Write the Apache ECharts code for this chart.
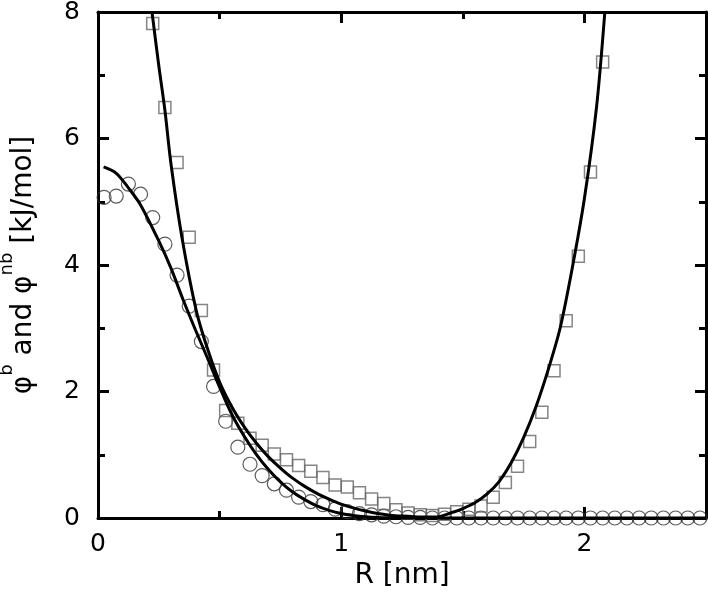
<!DOCTYPE html>
<html>
<head>
<meta charset="utf-8">
<script src="https://cdn.jsdelivr.net/npm/echarts@6/dist/echarts.min.js"></script>
<style>
html,body{margin:0;padding:0;background:#fff;}
#c{width:708px;height:599px;}
</style>
</head>
<body>
<div id="c"></div>
<script>
// Circles (phi^b data)
const circleX = [0.025,0.075,0.125,0.175,0.225,0.275,0.325,0.375,0.425,0.475,0.525,0.575,0.625,0.675,0.725,0.775,0.825,0.875,0.925,0.975,1.025,1.075,1.125,1.175,1.225,1.275,1.325,1.375,1.425,1.475,1.525,1.575,1.625,1.675,1.725,1.775,1.825,1.875,1.925,1.975,2.025,2.075,2.125,2.175,2.225,2.275,2.325,2.375,2.425,2.475];
const circleY = [5.07,5.09,5.28,5.12,4.75,4.33,3.84,3.35,2.79,2.08,1.53,1.12,0.85,0.67,0.54,0.44,0.33,0.26,0.21,0.14,0.10,0.07,0.05,0.03,0.02,0.01,0.01,0,0,0,0,0,0,0,0,0,0,0,0,0,0,0,0,0,0,0,0,0,0,0];
// Squares (phi^nb data)
const squareX = [0.225,0.275,0.325,0.375,0.425,0.475,0.525,0.575,0.625,0.675,0.725,0.775,0.825,0.875,0.925,0.975,1.025,1.075,1.125,1.175,1.225,1.275,1.325,1.375,1.425,1.475,1.525,1.575,1.625,1.675,1.725,1.775,1.825,1.875,1.925,1.975,2.025,2.075];
const squareY = [7.82,6.49,5.62,4.44,3.28,2.34,1.70,1.50,1.26,1.15,1.01,0.92,0.83,0.74,0.64,0.52,0.49,0.40,0.30,0.23,0.13,0.08,0.05,0.04,0.06,0.10,0.14,0.19,0.33,0.56,0.82,1.21,1.67,2.33,3.12,4.14,5.47,7.21];
// Fit curve through squares
const fitNbX = [0.222,0.25,0.275,0.30,0.345,0.404,0.45,0.5,0.55,0.6,0.65,0.7,0.75,0.8,0.85,0.9,0.95,1.0,1.05,1.1,1.15,1.2,1.25,1.3,1.35,1.4,1.45,1.5,1.55,1.6,1.65,1.7,1.75,1.8,1.85,1.9,1.95,2.0,2.05,2.084];
const fitNbY = [8.0,7.15,6.45,5.6,4.44,3.28,2.68,2.15,1.76,1.45,1.19,0.97,0.79,0.63,0.50,0.39,0.30,0.22,0.16,0.11,0.07,0.045,0.03,0.02,0.015,0.02,0.08,0.15,0.24,0.38,0.58,0.88,1.27,1.75,2.33,3.0,3.95,5.05,6.5,8.0];
// Fit curve through circles
const fitBX = [0.023,0.075,0.125,0.175,0.25,0.3,0.35,0.4,0.45,0.5,0.55,0.6,0.65,0.7,0.75,0.8,0.85,0.9,0.95,1.0,1.05,1.1,1.15,1.2,1.3,1.5,2.0,2.5];
const fitBY = [5.55,5.45,5.22,4.95,4.38,3.95,3.45,2.98,2.53,2.07,1.64,1.3,1.01,0.77,0.57,0.41,0.29,0.19,0.12,0.07,0.04,0.02,0.008,0.003,0,0,0,0];

const xTicks = [0,1,2];
const yTicks = [0,2,4,6,8];

const font = 'DejaVu Sans';
const zip = (a,b)=>a.map((v,i)=>[v,b[i]]);

const axisCommon = {
  axisLine:{show:true,onZero:false,lineStyle:{color:'#000',width:3}},
  axisTick:{show:true,inside:true,length:11,lineStyle:{color:'#000',width:3}},
  minorTick:{show:true,splitNumber:2,length:7,lineStyle:{color:'#000',width:3}},
  splitLine:{show:false}
};

const chart = echarts.init(document.getElementById('c'));
chart.setOption({
  backgroundColor:'#fff',
  animation:false,
  grid:{left:98,right:2,top:12,bottom:81,containLabel:false,outerBoundsMode:'none'},
  xAxis:[
    Object.assign({type:'value',min:0,max:2.5,interval:1,position:'bottom',
      name:'R [nm]',nameLocation:'middle',nameGap:44,
      nameTextStyle:{fontFamily:font,fontSize:28,color:'#000'},
      axisLabel:{show:true,margin:14,fontFamily:font,fontSize:25,color:'#000',
        formatter:v=>xTicks.indexOf(v)>=0?String(v):''}},axisCommon),
    Object.assign({type:'value',min:0,max:2.5,interval:1,position:'top',
      axisLabel:{show:false}},axisCommon)
  ],
  yAxis:[
    Object.assign({type:'value',min:0,max:8,interval:2,position:'left',
      name:'{b|φ}{s|b}{b| and φ}{s|nb}{b| [kJ/mol]}',nameLocation:'middle',nameGap:60,nameRotate:90,
      nameTextStyle:{fontFamily:font,fontSize:28,color:'#000',
        rich:{b:{fontFamily:font,fontSize:28,color:'#000',lineHeight:40,verticalAlign:'bottom'},
              s:{fontFamily:font,fontSize:18,color:'#000',lineHeight:40,verticalAlign:'top'}}},
      axisLabel:{show:true,margin:18,fontFamily:font,fontSize:25,color:'#000',
        formatter:v=>yTicks.indexOf(v)>=0?String(v):''}},axisCommon),
    Object.assign({type:'value',min:0,max:8,interval:2,position:'right',
      axisLabel:{show:false}},axisCommon)
  ],
  series:[
    {type:'scatter',name:'circles',data:zip(circleX,circleY),symbol:'circle',symbolSize:14,
      itemStyle:{color:'rgba(0,0,0,0)',borderColor:'#333',borderWidth:1.2},z:2},
    {type:'scatter',name:'squares',data:zip(squareX,squareY),symbol:'rect',symbolSize:12,
      itemStyle:{color:'rgba(0,0,0,0)',borderColor:'#666',borderWidth:1.5},z:2},
    {type:'line',name:'fit nb',data:zip(fitNbX,fitNbY),smooth:0.3,showSymbol:false,
      lineStyle:{color:'#000',width:3},z:3,clip:true},
    {type:'line',name:'fit b',data:zip(fitBX,fitBY),smooth:0.3,showSymbol:false,
      lineStyle:{color:'#000',width:3},z:3,clip:true}
  ]
});
</script>
</body>
</html>
